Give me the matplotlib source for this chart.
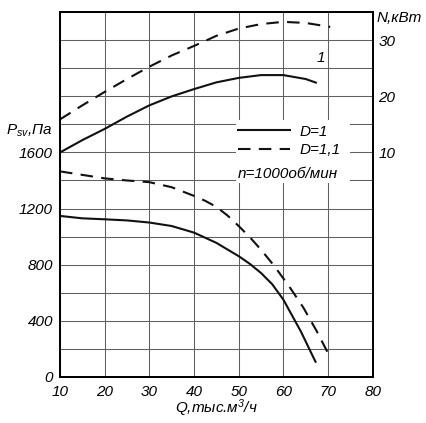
import matplotlib
matplotlib.use("Agg")
import matplotlib.pyplot as plt
from matplotlib.lines import Line2D
from matplotlib.patches import Rectangle
from matplotlib.ticker import FuncFormatter

plt.rcParams['font.family'] = ['Liberation Sans', 'DejaVu Sans']
plt.rcParams['font.style'] = 'italic'
plt.rcParams['font.size'] = 11
plt.rcParams['mathtext.fontset'] = 'custom'
plt.rcParams['mathtext.rm'] = 'Liberation Sans:italic'
plt.rcParams['mathtext.it'] = 'Liberation Sans:italic'

FS = 11

# Pressure curves (Pa)
q_p1 = [10, 15, 20, 25, 30, 35, 40, 45, 50, 52.5, 55, 57.5, 60, 62, 64, 66, 67.3]
p1 = [1147, 1130, 1123, 1115, 1100, 1075, 1028, 955, 860, 805, 740, 660, 550, 434, 318, 185, 100]
q_p2 = [10, 15, 20, 25, 30, 35, 40, 42.5, 45, 47.5, 50, 52.5, 55, 58, 61.5, 64.5, 67.5, 70.4]
p2 = [1465, 1440, 1415, 1400, 1388, 1352, 1290, 1255, 1212, 1150, 1075, 995, 906, 789, 635, 492, 323, 143]

# Power curves (kW)
q_n1 = [10, 15, 20, 25, 30, 35, 40, 45, 50, 55, 60, 65, 67.5]
n1 = [10, 12.2, 14.2, 16.4, 18.4, 20, 21.3, 22.5, 23.3, 23.8, 23.8, 23.1, 22.4]
q_n2 = [10, 15, 20, 25, 30, 35, 40, 45, 50, 55, 60, 65, 70.5]
n2 = [15.9, 18.4, 20.8, 23.1, 25.3, 27.3, 29, 30.8, 32.1, 32.9, 33.3, 33.1, 32.4]

x_ticks = [10, 20, 30, 40, 50, 60, 70, 80]
p_labels = [0, 400, 800, 1200, 1600]
n_ticks = [10, 20, 30]

fig = plt.figure(figsize=(4.27, 4.23), dpi=100)
ax = fig.add_axes([0.1405, 0.1095, 0.7323, 0.8614])
ax2 = ax.twinx()

ax.set_xlim(10, 80)
ax.set_ylim(0, 2600)
ax2.set_ylim(-30, 35)

ax.set_xticks(x_ticks)
ax.set_yticks(list(range(0, 2601, 200)))
ax.yaxis.set_major_formatter(FuncFormatter(lambda v, p: f"{int(v)}" if int(v) in p_labels else ""))
ax2.set_yticks(n_ticks)

ax.grid(True, color='#606060', linewidth=0.75)
ax.tick_params(axis='both', length=0, labelsize=FS)
ax.tick_params(axis='x', pad=6)
ax.tick_params(axis='y', pad=5)
ax2.tick_params(axis='y', length=0, labelsize=FS, pad=4)

for a in (ax, ax2):
    for s in a.spines.values():
        s.set_linewidth(1.3)

lw = 1.5
ds = (6, 4)
ax.plot(q_p1, p1, color='#111111', lw=lw, solid_capstyle='butt')
ax.plot(q_p2, p2, color='#111111', lw=lw, dashes=ds)
ax2.plot(q_n1, n1, color='#111111', lw=lw, solid_capstyle='butt')
ax2.plot(q_n2, n2, color='#111111', lw=lw, dashes=ds)

ax2.text(68.5, 26.9, '1', ha='center', va='center', fontsize=FS)

ax.set_xlabel('Q,тыс.м$^3$/ч', fontsize=FS)
ax.xaxis.set_label_coords(0.5, -0.058)
ax.text(-0.023, 0.674, '$P_{sv}$,Па', transform=ax.transAxes, ha='right', va='center', fontsize=FS)
ax2.text(1.0136, 0.984, 'N,кВт', transform=ax2.transAxes, ha='left', va='center', fontsize=FS)

# legend box
ax.add_patch(Rectangle((0.563, 0.5315), 0.364, 0.173, transform=ax.transAxes,
                       facecolor='white', edgecolor='none', zorder=2.5))
handles = [Line2D([], [], color='#111111', lw=lw),
           Line2D([], [], color='#111111', lw=lw, dashes=ds)]
leg = ax.legend(handles, ['D=1', 'D=1,1'], loc='upper left',
                bbox_to_anchor=(0.55, 0.708), frameon=False, handlelength=3.4,
                handletextpad=0.6, labelspacing=0.3, fontsize=FS, borderaxespad=0)
leg.set_zorder(3)
ax.text(0.567, 0.556, 'n=1000об/мин', transform=ax.transAxes, ha='left', va='center',
        fontsize=FS, zorder=3)

fig.savefig('out.png', dpi=100)
